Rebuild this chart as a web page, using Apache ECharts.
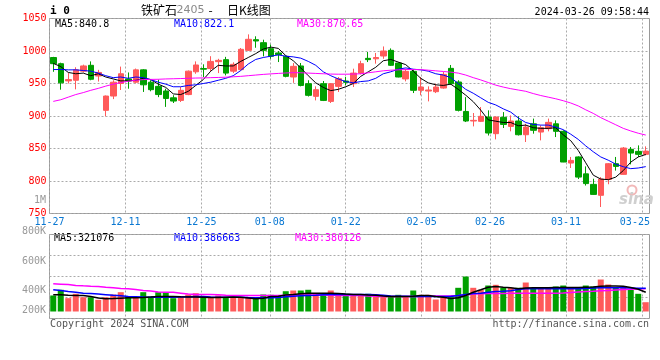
<!DOCTYPE html>
<html><head><meta charset="utf-8">
<script src="https://cdn.jsdelivr.net/npm/echarts@6/dist/echarts.min.js"></script>
<style>html,body{margin:0;padding:0;background:#fff}#c{width:660px;height:360px}</style>
</head><body><div id="c"></div>
<script>
const dates = ['11-27','11-28','11-29','11-30','12-01','12-04','12-05','12-06','12-07','12-08',
'12-11','12-12','12-13','12-14','12-15','12-18','12-19','12-20','12-21','12-22',
'12-25','12-26','12-27','12-28','12-29','01-02','01-03','01-04','01-05','01-08',
'01-09','01-10','01-11','01-12','01-15','01-16','01-17','01-18','01-19','01-22',
'01-23','01-24','01-25','01-26','01-29','01-30','01-31','02-01','02-02','02-05',
'02-06','02-07','02-08','02-19','02-20','02-21','02-22','02-23','02-26','02-27',
'02-28','02-29','03-01','03-04','03-05','03-06','03-07','03-08','03-11','03-12',
'03-13','03-14','03-15','03-18','03-19','03-20','03-21','03-22','03-25','03-26'];
const open = [990,980.5,954,955,969,978,961.5,908.7,930.7,950,
957,952,971,952,945.6,938.5,928,924,933,968,
973,973,983.6,986.7,969,971.3,1001,1017.4,1012.8,1003.6,
997,991.8,960,977,949.7,930.2,949.7,922.5,945.6,953.8,
949.7,966,988.7,988,992.3,1001,981.5,957,968.7,939.5,
938.4,937.4,943,973.3,952.3,907,892.3,891.8,898.4,872.8,
898,884,892.3,871.2,888,875.3,880.5,888,876.4,827.6,
837,811,794.8,778,802.5,826.6,810.2,848.7,845.6,841];
const close = [980.5,951,956,971,977,956.5,967,930.7,952,965,
954,971,948,940.5,933,927,923,939.5,969,978.5,
972,984,985.6,966,979.5,1002.6,1018,1015.4,1001,991.8,
994.4,961,976.4,947,931.8,940.5,924,949.7,957.4,951.8,
966,980.5,986.7,990,1000,978,960,968.7,939.5,944.6,
940,944.6,964,949.7,908.7,892.3,893.3,899.5,873.8,898.4,
887,892.3,871.2,883,878,882,890.2,876.4,829.2,831.7,
806,796,779.4,803,826.6,822.5,850.7,843,841,846];
const low = [968,940.5,950,941,967,955,953,899.5,926,940,
942,950,937,938,929,914,920,921.5,932,965,
960,969,966,962.5,966,970,1000,1005,991.8,988,
983,959.5,951,945.6,930,924,923,920,937,947,
944.6,964,983,980.5,988,977,959.5,953.3,935.3,931.8,
922.5,935.3,942,948,907,890.7,884,890.7,870,864,
881.5,876.4,870,860,872.8,862.5,876.4,867.6,829,820,
803,793,779,760,795,816,810,825.6,836.9,839.4];
const high = [991,982,966,975,979,984,971,931.5,955,976,
967,973,972,955,956,942,932,944.6,970,984,
979.5,992,988,991,982.6,1004.6,1025.6,1022.6,1017.4,1010,
1000,993,981.5,981.5,955,945.6,953.8,950.5,960,960,
972.8,985,998.5,997,1007,1004,982.6,972.8,971.3,960,
945.6,949.7,967.7,978.5,955,929,904.6,913.8,908.7,899.5,
906,901,899.5,888,896,885.6,896,893.3,878,837,
838,822.5,803.5,806,827.6,837,852.3,852.3,854.8,853.3];
const ma5 = [981,976,967,965,966,962,965,960,957,954,
954,955,958,956,949,944,934,933,938,947,
956,969,978,977,977,984,990,996,1003,1006,
1004,993,985,974,962,951,944,939,941,945,
950,961,968,975,985,987,983,979,969,958,
951,948,947,949,941,932,922,909,894,892,
890,890,885,886,882,881,881,882,871,862,
847,828,809,803,802,806,816,829,837,840.8];
const ma10 = [971.5,971.5,971,971,970,969,966,962,959,960,
958,960,959,956,952,949,945,945,947,948,
950,952,955,958,962,970,980,987,990,992,
994,992,991,989,984,978,968,962,957,953,
951,953,954,958,965,968,972,974,972,971,
969,965,963,959,950,941,935,928,921,917,
911,906,897,890,887,886,886,883,879,872,
864,854,845,837,832,826,822,819,820,822.1];
const ma30 = [922.5,925,929,933,936,939.5,942.5,946,949,951.5,
953.5,955,956,956.3,956.5,957,957.3,957.6,958,958.4,
958.6,959,959.3,959.7,960.3,961,962,963,964,964.8,
965.5,966.2,966.7,966.5,966,965.5,965,964.5,964.3,964.3,
964.5,965,966.5,968,969.5,970.5,971,971.5,971.5,971.3,
970.5,969.5,968.5,967.5,966,963,959,955.5,951.5,947.5,
944.5,942,940,938,934.5,931.5,929,926.5,923.5,920,
915.5,909.5,904,897.5,892,886.5,881,877,873.5,870.65];
// volumes in thousands of lots
const volume = [267,362,222,295,238,238,195,238,283,322,
250,238,322,250,322,322,222,250,283,305,
238,238,267,238,228,228,228,212,283,278,
267,338,350,350,362,305,283,350,267,295,
267,267,295,250,250,250,278,250,350,278,
278,200,238,238,395,583,395,362,433,445,
395,395,395,483,378,395,395,417,433,378,
395,433,417,533,450,395,417,362,295,155];
const volMa5 = [278,278,272,267,267,250,225,212,215,222,
228,228,232,240,250,250,250,245,242,240,
238,235,232,238,240,238,225,212,220,250,
255,275,283,295,305,305,305,305,300,290,
283,283,275,272,260,250,250,250,255,265,
267,250,238,215,230,267,322,362,405,417,
405,395,380,390,395,395,395,398,400,400,
400,405,410,420,425,425,420,400,370,321.076];
const volMa10 = [362,350,335,322,305,300,290,280,270,262,
250,245,240,238,238,238,238,240,245,250,
248,242,238,238,238,236,232,230,228,228,
235,245,255,262,267,270,278,283,283,283,
283,283,283,280,270,258,255,255,252,250,
250,250,250,250,265,285,300,305,320,335,
338,345,365,378,378,378,380,380,380,380,
380,385,392,395,395,395,395,392,388,386.663];
const volMa30 = [462,455,448,435,428,422,417,405,395,385,
378,365,350,340,325,322,320,305,290,285,
283,283,278,270,267,267,267,267,267,267,
267,270,272,275,275,275,273,270,268,267,
267,265,260,255,250,250,250,250,250,252,
255,258,260,262,267,275,290,295,298,300,
302,305,305,305,305,305,305,305,308,315,
325,335,338,345,352,360,365,370,375,380.126];
const xTickLabels = ['11-27','12-11','12-25','01-08','01-22','02-05','02-26','03-11','03-25'];
const volTickLabels = ['800K','600K','400K','200K'];
const titleParts = ['铁矿石','2405','-','日K线图'];
const contractCode = 'i 0';
const stamp = '2024-03-26 09:58:44';

const UP = '#ff5a5a', DOWN = '#00a000';
const MONO = 'DejaVu Sans Mono';
const dotted = {color:'#aaaaaa', type:[2,2], width:1};
const showTick = (i, v) => xTickLabels.indexOf(v) >= 0;

const candles = dates.map((d,i) => [open[i], close[i], low[i], high[i]]);
const volBars = volume.map((v,i) => ({value: v, itemStyle: {color: close[i] >= open[i] ? UP : DOWN}}));

function fmtK(v){ return String(Math.round(v*1000)); }
function t(text, x, y, fill, font, align) {
  return {type:'text', x:x, y:y, silent:true, style:{text:text, fill:fill, font:font, align:align||'left', verticalAlign:'middle'}};
}

const chart = echarts.init(document.getElementById('c'), null, {renderer:'canvas'});
chart.setOption({
  animation:false,
  backgroundColor:'#fff',
  grid:[
    {left:49.5, top:18.5, width:600, height:195, show:true, borderColor:'#999', borderWidth:1},
    {left:49.5, top:234.5, width:600, height:84, show:true, borderColor:'#999', borderWidth:1}
  ],
  xAxis:[
    {type:'category', gridIndex:0, position:'bottom', data:dates, boundaryGap:true, show:false},
    {type:'category', gridIndex:0, position:'bottom', data:dates, boundaryGap:false,
      axisLine:{show:false}, axisTick:{show:false},
      axisLabel:{interval:showTick, color:'#0a78d2', fontFamily:MONO, fontSize:10, margin:4,
        formatter:(v)=> v === xTickLabels[xTickLabels.length-1] ? '{e|'+v+'}' : v,
        rich:{e:{padding:[0,14,0,0], color:'#0a78d2', fontFamily:MONO, fontSize:10}}},
      splitLine:{show:true, interval:showTick, lineStyle:dotted}},
    {type:'category', gridIndex:1, position:'bottom', data:dates, boundaryGap:true, show:false},
    {type:'category', gridIndex:1, position:'bottom', data:dates, boundaryGap:false,
      axisLine:{show:false}, axisTick:{show:false}, axisLabel:{show:false},
      splitLine:{show:true, interval:showTick, lineStyle:dotted}}
  ],
  yAxis:[
    {type:'value', gridIndex:0, min:750, max:1050, interval:50, position:'left',
      axisLine:{show:false}, axisTick:{show:false},
      axisLabel:{color:'#ff0000', fontFamily:MONO, fontSize:10, margin:3, formatter:(v)=>String(v)},
      splitLine:{show:true, lineStyle:dotted}},
    {type:'value', gridIndex:1, min:-116.667, max:1283.333, show:false, splitLine:{show:false}},
    {type:'value', gridIndex:1, min:0, max:4, interval:1, position:'right',
      axisLine:{show:false}, axisTick:{show:false}, axisLabel:{show:false},
      splitLine:{show:true, lineStyle:dotted}}
  ],
  series:[
    {type:'candlestick', xAxisIndex:0, yAxisIndex:0, data:candles, barWidth:6,
      itemStyle:{color:UP, color0:DOWN, borderColor:UP, borderColor0:DOWN, borderWidth:1}},
    {type:'line', xAxisIndex:0, yAxisIndex:0, data:ma5, showSymbol:false, lineStyle:{color:'#000', width:1}, itemStyle:{color:'#000'}},
    {type:'line', xAxisIndex:0, yAxisIndex:0, data:ma10, showSymbol:false, lineStyle:{color:'#0000ff', width:1}, itemStyle:{color:'#0000ff'}},
    {type:'line', xAxisIndex:0, yAxisIndex:0, data:ma30, showSymbol:false, lineStyle:{color:'#ff00ff', width:1}, itemStyle:{color:'#ff00ff'}},
    {type:'bar', xAxisIndex:2, yAxisIndex:1, data:volBars, barWidth:6},
    {type:'line', xAxisIndex:2, yAxisIndex:1, data:volMa30, showSymbol:false, lineStyle:{color:'#ff00ff', width:1.5}},
    {type:'line', xAxisIndex:2, yAxisIndex:1, data:volMa10, showSymbol:false, lineStyle:{color:'#0000ff', width:1.5}},
    {type:'line', xAxisIndex:2, yAxisIndex:1, data:volMa5, showSymbol:false, lineStyle:{color:'#000', width:1.5}}
  ],
  graphic:[
    t(contractCode, 50, 11, '#000', 'bold 11px "DejaVu Sans Mono"'),
    t(titleParts[0], 141, 10, '#000', '12px "Noto Sans CJK SC"'),
    t(titleParts[1], 176.5, 10.5, '#8a8a8a', '11px "DejaVu Sans"'),
    t(titleParts[2], 210.5, 10, '#000', '12px "Noto Sans CJK SC"', 'center'),
    t(titleParts[3], 227, 10, '#000', '12px "Noto Sans CJK SC"'),
    t(stamp, 649, 12, '#000', '10px "DejaVu Sans Mono"', 'right'),
    t('MA5:' + ma5[ma5.length-1], 55, 24, '#000', '10px "DejaVu Sans Mono"'),
    t('MA10:' + ma10[ma10.length-1], 174, 24, '#0000ff', '10px "DejaVu Sans Mono"'),
    t('MA30:' + ma30[ma30.length-1], 297, 24, '#ff00ff', '10px "DejaVu Sans Mono"'),
    t('MA5:' + fmtK(volMa5[volMa5.length-1]), 54, 238.5, '#000', '10px "DejaVu Sans Mono"'),
    t('MA10:' + fmtK(volMa10[volMa10.length-1]), 174, 238.5, '#0000ff', '10px "DejaVu Sans Mono"'),
    t('MA30:' + fmtK(volMa30[volMa30.length-1]), 295, 238.5, '#ff00ff', '10px "DejaVu Sans Mono"'),
    t('1M', 46, 200, '#999', '10px "DejaVu Sans Mono"', 'right'),
    t(volTickLabels[0], 46, 231, '#999', '10px "DejaVu Sans Mono"', 'right'),
    t(volTickLabels[1], 46, 261, '#999', '10px "DejaVu Sans Mono"', 'right'),
    t(volTickLabels[2], 46, 290, '#999', '10px "DejaVu Sans Mono"', 'right'),
    t(volTickLabels[3], 46, 310, '#999', '10px "DejaVu Sans Mono"', 'right'),
    t('Copyright 2024 SINA.COM', 50, 324, '#555', '10px "DejaVu Sans Mono"'),
    t('http://finance.sina.com.cn', 649, 324, '#555', '10px "DejaVu Sans Mono"', 'right'),
    {type:'circle', silent:true, shape:{cx:632, cy:190, r:4.5}, style:{fill:'none', stroke:'#f2b8b8', lineWidth:2}},
    t('sina', 619, 200, '#cfcfcf', 'italic bold 15px "DejaVu Sans"')
  ]
});
</script>
</body></html>
